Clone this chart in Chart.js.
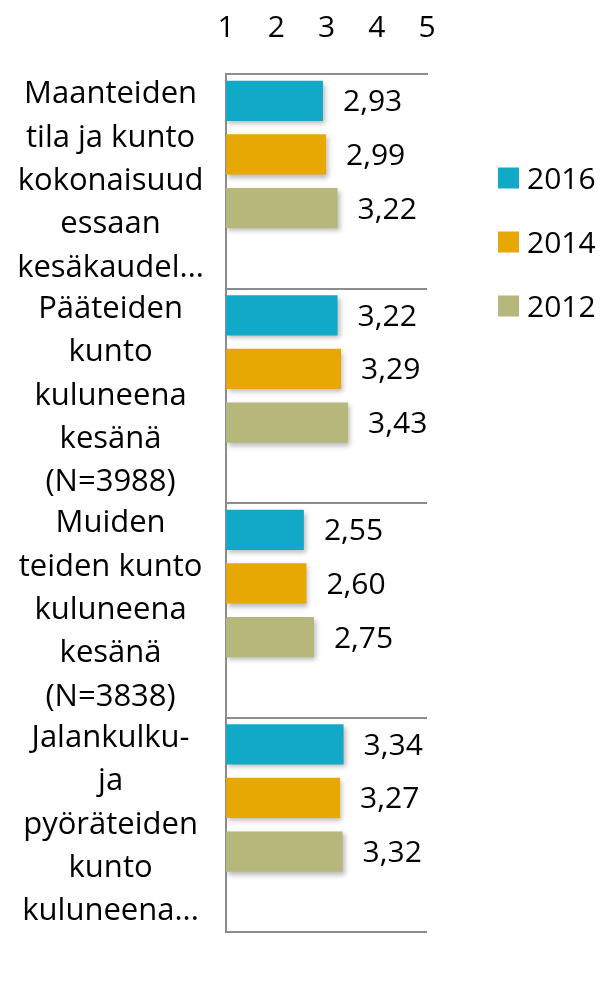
<!DOCTYPE html>
<html>
<head>
<meta charset="utf-8">
<script src="https://cdn.jsdelivr.net/npm/chart.js@4/dist/chart.umd.min.js"></script>
<style>
html,body{margin:0;padding:0;background:#fff;}
#wrap{width:608px;height:1006px;}
</style>
</head>
<body>
<div id="wrap"><canvas id="c" width="608" height="1006"></canvas></div>
<script>
const categories = [
  ["Maanteiden", "tila ja kunto", "kokonaisuud", "essaan", "kesäkaudel..."],
  ["Pääteiden", "kunto", "kuluneena", "kesänä", "(N=3988)"],
  ["Muiden", "teiden kunto", "kuluneena", "kesänä", "(N=3838)"],
  ["Jalankulku-", "ja", "pyöräteiden", "kunto", "kuluneena..."]
];
const seriesNames = ["2016", "2014", "2012"];
const values2016 = [2.93, 3.22, 2.55, 3.34];
const values2014 = [2.99, 3.29, 2.60, 3.27];
const values2012 = [3.22, 3.43, 2.75, 3.32];
const xTicks = [1, 2, 3, 4, 5];
const colors = ["#12A8C8", "#E8A804", "#B6B77B"];

const FONT = "'Open Sans', Lato, sans-serif";

const barShadow = {
  id: 'barShadow',
  beforeDatasetDraw(chart) {
    const ctx = chart.ctx;
    ctx.save();
    ctx.shadowColor = 'rgba(0,0,0,0.28)';
    ctx.shadowBlur = 5;
    ctx.shadowOffsetX = 2;
    ctx.shadowOffsetY = 3;
  },
  afterDatasetDraw(chart) {
    chart.ctx.restore();
  }
};

const valueLabels = {
  id: 'valueLabels',
  afterDatasetsDraw(chart) {
    const ctx = chart.ctx;
    ctx.save();
    ctx.font = "30px " + FONT;
    ctx.fillStyle = "#000";
    ctx.textAlign = "left";
    ctx.textBaseline = "middle";
    chart.data.datasets.forEach((ds, di) => {
      if (!ds.showValues) return;
      const meta = chart.getDatasetMeta(di);
      meta.data.forEach((el, i) => {
        const v = ds.data[i];
        if (v == null) return;
        ctx.fillText(v.toFixed(2).replace('.', ','), el.x + 20, el.y + 2);
      });
    });
    ctx.restore();
  }
};

const customLegend = {
  id: 'customLegend',
  afterDraw(chart) {
    const ctx = chart.ctx;
    ctx.save();
    ctx.font = "30px " + FONT;
    ctx.textAlign = "left";
    ctx.textBaseline = "middle";
    const x0 = 498, y0 = 178, step = 64, sq = 21;
    chart.data.datasets.forEach((ds, di) => {
      if (!ds.showValues) return;
      const y = y0 + di * step;
      ctx.fillStyle = ds.backgroundColor;
      ctx.fillRect(x0, y - sq / 2, sq, sq);
      ctx.fillStyle = "#000";
      ctx.fillText(ds.label, x0 + 29, y + 2);
    });
    ctx.restore();
  }
};

new Chart(document.getElementById('c'), {
  type: 'bar',
  data: {
    labels: categories,
    datasets: [
      { label: seriesNames[0], data: values2016, backgroundColor: colors[0], showValues: true },
      { label: seriesNames[1], data: values2014, backgroundColor: colors[1], showValues: true },
      { label: seriesNames[2], data: values2012, backgroundColor: colors[2], showValues: true },
      { label: "", data: [null, null, null, null], backgroundColor: "rgba(0,0,0,0)", showValues: false }
    ]
  },
  options: {
    indexAxis: 'y',
    responsive: false,
    animation: false,
    devicePixelRatio: 1,
    layout: { padding: { left: 0, right: 181, top: 0, bottom: 74 } },
    datasets: { bar: { categoryPercentage: 1.0, barPercentage: 0.75, base: 1 } },
    plugins: { legend: { display: false }, tooltip: { enabled: false } },
    scales: {
      x: {
        position: 'top',
        min: 1, max: 5,
        afterBuildTicks(scale) { scale.ticks = xTicks.map(v => ({ value: v })); },
        afterFit(scale) { scale.height = 74; scale.paddingLeft = 0; scale.paddingRight = 0; },
        grid: { display: false, drawTicks: false },
        border: { display: true, color: '#8c8c8c', width: 2 },
        ticks: { color: '#000', font: { family: FONT, size: 30 }, padding: 28, maxRotation: 0 }
      },
      y: {
        afterFit(scale) { scale.width = 226; scale.paddingTop = 0; scale.paddingBottom = 0; },
        grid: { display: true, drawTicks: false, offset: true, color: '#8c8c8c', lineWidth: 2 },
        border: { display: true, color: '#8c8c8c', width: 2 },
        ticks: { color: '#000', font: { family: FONT, size: 31, lineHeight: 1.4 }, padding: 22, crossAlign: 'center', autoSkip: false }
      }
    }
  },
  plugins: [barShadow, valueLabels, customLegend]
});
</script>
</body>
</html>
